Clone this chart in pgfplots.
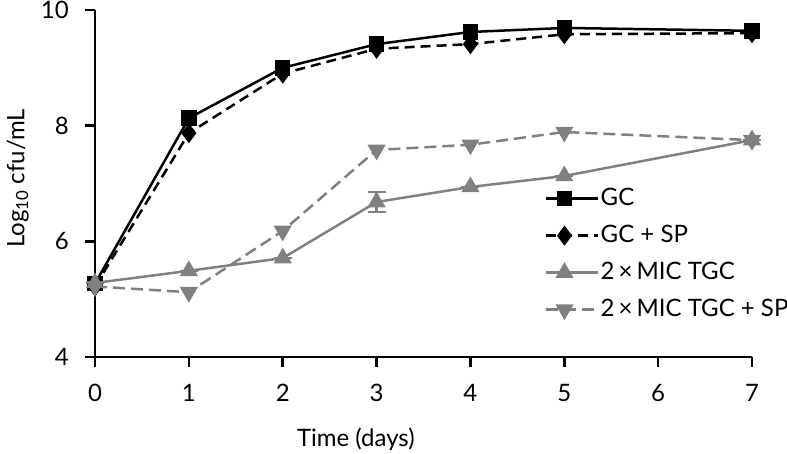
\documentclass[border=0pt]{standalone}
\usepackage{fontspec}
\setmainfont{Lato}
\usepackage{pgfplots}
\pgfplotsset{compat=1.18}
\definecolor{tgray}{RGB}{128,128,128}
\begin{document}
\fontsize{24}{28}\selectfont
\begin{tikzpicture}
\begin{axis}[
  at={(95pt,96pt)}, anchor=south west,
  width=657pt, height=347pt, scale only axis,
  xmin=0, xmax=7, ymin=4, ymax=10,
  axis lines*=left,
  xtick={0,1,2,3,4,5,6,7}, ytick={4,6,8,10},
  tick align=outside, major tick length=10pt,
  axis line style={line width=2.5pt, black},
  every tick/.style={line width=2.5pt, black},
  tick label style={font=\fontsize{24}{28}\selectfont},
  xticklabel style={yshift=-9pt},
  yticklabel style={xshift=-8pt},
  /pgf/number format/assume math mode=true,
  xlabel={Time (days)}, ylabel={Log\textsubscript{10} cfu/mL},
  label style={font=\fontsize{24}{28}\selectfont},
  xlabel style={at={(ticklabel cs:0.397)}, yshift=-10pt},
  ylabel style={at={(ticklabel cs:0.515)}, yshift=-4pt},
  clip=false,
  legend style={draw=none, fill=none, at={(0.685,0.49)}, anchor=north west,
    font=\fontsize{24}{28}\selectfont, row sep=14pt, inner sep=0pt,
    nodes={inner sep=1pt}},
  legend cell align=left,
  legend image code/.code={\path (0pt,0pt) -- (52pt,0pt); \draw[mark repeat=2, mark phase=2, #1] plot coordinates {(0pt,0pt) (18pt,0pt) (36pt,0pt)};},
]
\addplot[black, line width=2.5pt, mark=square*, mark size=6.5pt, mark options={solid}]
  coordinates {(0,5.27) (1,8.13) (2,9.0) (3,9.41) (4,9.62) (5,9.69) (7,9.64)};
\addlegendentry{GC}
\addplot[black, line width=2.5pt, dash pattern=on 10pt off 6pt, mark=diamond*, mark size=8pt, mark options={solid}]
  coordinates {(0,5.22) (1,7.87) (2,8.9) (3,9.33) (4,9.41) (5,9.58) (7,9.6)};
\addlegendentry{GC + SP}
\addplot[tgray, line width=2.5pt, mark=triangle*, mark size=8pt, mark options={solid},
  error bars/.cd, y dir=both, y explicit, error bar style={line width=2.5pt, tgray}, error mark options={rotate=90, mark size=9pt, line width=2.5pt, tgray}]
  coordinates {(0,5.28) +- (0,0) (1,5.49) +- (0,0) (2,5.71) +- (0,0) (3,6.68) +- (0,0.17) (4,6.94) +- (0,0) (5,7.13) +- (0,0) (7,7.75) +- (0,0)};
\addlegendentry{2\,×\,MIC TGC}
\addplot[tgray, line width=2.5pt, dash pattern=on 12pt off 6pt, mark=triangle*, mark size=8pt, mark options={solid, rotate=180}]
  coordinates {(0,5.22) (1,5.12) (2,6.18) (3,7.58) (4,7.67) (5,7.89) (7,7.75)};
\addlegendentry{2\,×\,MIC TGC + SP}
\end{axis}
\pgfresetboundingbox
\path (0pt,0pt) rectangle (787pt,453pt);
\end{tikzpicture}
\end{document}
